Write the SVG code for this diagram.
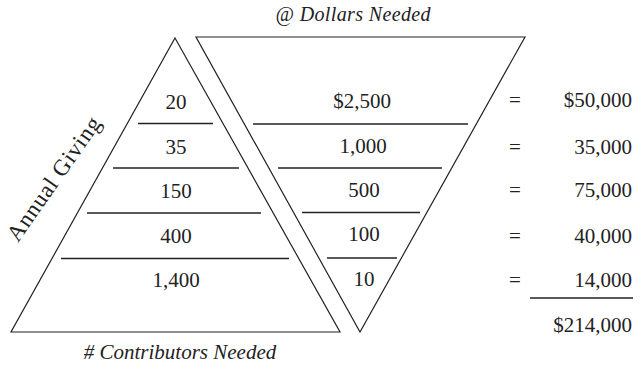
<svg xmlns="http://www.w3.org/2000/svg" width="643" height="369" viewBox="0 0 643 369">
<style>
text{font-family:'Liberation Serif','DejaVu Serif','Noto Serif',serif;font-size:21px;fill:#222}
.c{text-anchor:middle}
.r{text-anchor:end}
.i{font-style:italic}
.t20{font-size:20px}
.t23{font-size:23px}
.tri{fill:none;stroke:#222;stroke-width:1.2}
.ln{stroke:#222;stroke-width:1.3}
</style>
<rect width="643" height="369" fill="#fff"/>
<text id="title-dollars" class="c i t20" x="353" y="21" textLength="155">@ Dollars Needed</text>
<g id="contributors-pyramid">
<polygon class="tri" points="175,38 340,332 11,332"/>
<text class="c" x="176" y="109">20</text>
<text class="c" x="176" y="154">35</text>
<text class="c" x="176" y="198">150</text>
<text class="c" x="176" y="243">400</text>
<text class="c" x="176" y="287">1,400</text>
</g>
<g id="dollars-pyramid">
<polygon class="tri" points="196,37 525,37 360,332"/>
<text class="c" x="362" y="107.5">$2,500</text>
<text class="c" x="363" y="152.5">1,000</text>
<text class="c" x="364" y="197">500</text>
<text class="c" x="364" y="241">100</text>
<text class="c" x="364" y="286">10</text>
</g>
<g id="connectors">
<line class="ln" x1="138" y1="123.5" x2="213" y2="123.5"/>
<line class="ln" x1="113" y1="168" x2="239" y2="168"/>
<line class="ln" x1="87" y1="213" x2="261" y2="213"/>
<line class="ln" x1="61" y1="258.5" x2="289" y2="258.5"/>
<line class="ln" x1="253" y1="124" x2="468" y2="124"/>
<line class="ln" x1="278" y1="168" x2="442" y2="168"/>
<line class="ln" x1="302" y1="212.5" x2="420" y2="212.5"/>
<line class="ln" x1="327" y1="258" x2="397" y2="258"/>
<line class="ln" x1="530" y1="298" x2="633" y2="298"/>
</g>
<g id="totals">
<text class="c" x="515" y="107">=</text>
<text class="c" x="515" y="154">=</text>
<text class="c" x="515" y="197">=</text>
<text class="c" x="515" y="243">=</text>
<text class="c" x="515" y="287">=</text>
<text class="r" x="632" y="107">$50,000</text>
<text class="r" x="632" y="154">35,000</text>
<text class="r" x="632" y="197">75,000</text>
<text class="r" x="632" y="243">40,000</text>
<text class="r" x="632" y="287">14,000</text>
<text class="r" x="632" y="332">$214,000</text>
</g>
<text id="label-annual" class="t23" x="0" y="0" textLength="146" transform="translate(18,243) rotate(-55)">Annual Giving</text>
<text id="label-contributors" class="c i" x="180" y="359">#  Contributors Needed</text>
</svg>
